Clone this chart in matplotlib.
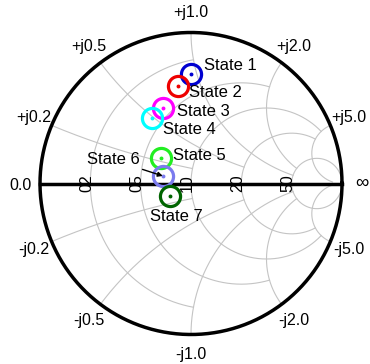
import numpy as np
import matplotlib
matplotlib.use("Agg")
import matplotlib.pyplot as plt

plt.rcParams['font.family'] = ['Liberation Sans', 'DejaVu Sans']

# grid values (MATLAB style): circle value and where it ends
grid_vals = [0.2, 0.5, 1.0, 2.0, 5.0]
grid_ends = [1.0, 2.0, 5.0, 5.0, 30.0]
axis_labels = ["02", "05", "10", "20", "50"]
react_labels = ["+j0.2", "+j0.5", "+j1.0", "+j2.0", "+j5.0"]
react_labels_neg = ["-j0.2", "-j0.5", "-j1.0", "-j2.0", "-j5.0"]

# reflection coefficients of the states
states = ["State 1", "State 2", "State 3", "State 4", "State 5", "State 6", "State 7"]
gamma_re = [0.000, -0.088, -0.188, -0.260, -0.201, -0.187, -0.139]
gamma_im = [0.722, 0.646, 0.500, 0.431, 0.172, 0.050, -0.083]
colors = ["#0000d0", "#ee0000", "#ff00ff", "#00ffff", "#22ee22", "#7b7bee", "#006400"]


def z2g(z):
    return (z - 1) / (z + 1)


fig = plt.figure(figsize=(3.7, 3.64), dpi=100)
ax = fig.add_axes([0, 0, 1, 1])
ax.set_xlim(-191 / 151, 179 / 151)
ax.set_ylim(-180.5 / 151, 183.5 / 151)
ax.axis('off')

gc = "#c4c4c4"
for v, e in zip(grid_vals, grid_ends):
    # resistance circle r = v, limited to |x| <= e
    x = np.linspace(-e, e, 3000)
    g = z2g(v + 1j * x)
    ax.plot(g.real, g.imag, color=gc, lw=0.8, zorder=1)
    # reactance arcs x = +-v, from r = 0 to r = e
    r = np.linspace(0, e, 6000)
    for s in (1, -1):
        g = z2g(r + 1j * s * v)
        ax.plot(g.real, g.imag, color=gc, lw=0.8, zorder=1)

t = np.linspace(0, 2 * np.pi, 600)
ax.plot(np.cos(t), np.sin(t), color="black", lw=2.5, zorder=2)
ax.plot([-1, 1], [0, 0], color="black", lw=2.5, zorder=2)

fs = 11.5
for v, lab, labn in zip(grid_vals, react_labels, react_labels_neg):
    g = z2g(1j * v)
    ax.text(1.13 * g.real, 1.13 * g.imag, lab, ha='center', va='center', fontsize=fs)
    ax.text(1.13 * g.real, -1.13 * g.imag, labn, ha='center', va='center', fontsize=fs)
ax.text(-1.13, -0.01, "0.0", ha='center', va='center', fontsize=fs)
ax.text(1.13, 0, "\u221e", ha='center', va='center', fontsize=fs + 2)

for v, lab in zip(grid_vals, axis_labels):
    g = z2g(v)
    ax.text(g - 0.022, 0, lab, rotation=90, ha='center', va='center', fontsize=fs, zorder=3)

# label offsets in pixels
offsets = [(13, 9), (11, -7), (14, -3), (11, -11), (12, 2), (-23, 16), (6, -20)]
for name, gr, gi, c, off in zip(states, gamma_re, gamma_im, colors, offsets):
    ax.plot(gr, gi, 'o', ms=14.5, mfc='none', mec=c, mew=2.3, zorder=4)
    ax.plot(gr, gi, 'o', ms=1.8, color=c, zorder=5)
    if name == "State 6":
        ax.annotate(name, (gr, gi), xytext=off, textcoords='offset pixels',
                    ha='right', va='center', fontsize=12,
                    arrowprops=dict(arrowstyle='-|>', color='black', lw=1,
                                    mutation_scale=7, shrinkA=0, shrinkB=0),
                    zorder=6)
    elif name == "State 7":
        ax.annotate(name, (gr, gi), xytext=off, textcoords='offset pixels',
                    ha='center', va='center', fontsize=12, zorder=6)
    else:
        ax.annotate(name, (gr, gi), xytext=off, textcoords='offset pixels',
                    ha='left', va='center', fontsize=12, zorder=6)

fig.savefig("out.png", dpi=100)
